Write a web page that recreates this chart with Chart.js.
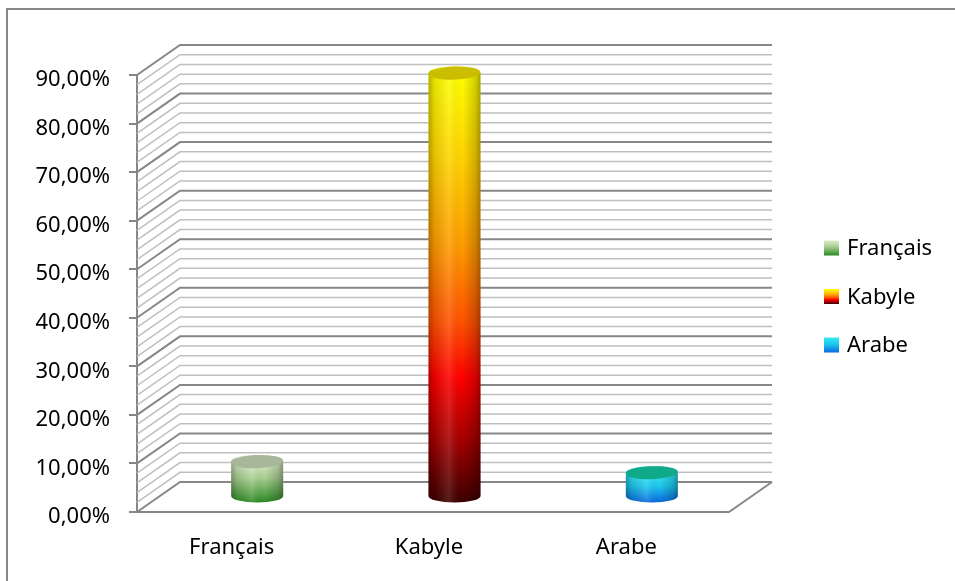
<!DOCTYPE html>
<html><head><meta charset="utf-8">
<script src="https://cdn.jsdelivr.net/npm/chart.js@4/dist/chart.umd.min.js"></script>
<style>html,body{margin:0;padding:0;background:#fff}#wrap{width:955px;height:581px}</style>
</head><body><div id="wrap"><canvas id="c" width="955" height="581"></canvas></div>
<script>
// ---- data ----
const categories = ['Français', 'Kabyle', 'Arabe'];
const values = [7.3, 87.3, 5.0];          // percent
const yTickValues = [0, 10, 20, 30, 40, 50, 60, 70, 80, 90];
const yMax = 90;
const minorStep = 2;

// ---- styles ----
const FONT = '"Noto Sans", "DejaVu Sans", sans-serif';
const DX = 43, DY = -30;   // depth offset of the 3D box
const palettes = [
  { cap: '#a8b79a', stops: [[0, '#dcecca'], [0.4, '#a9cf92'], [1, '#2b8a23']] },
  { cap: '#cbbd00', stops: [[0, '#ffff00'], [0.2, '#ffd400'], [0.4, '#ff9c00'], [0.58, '#ff5200'], [0.71, '#ff0000'], [0.86, '#a20000'], [1, '#3c0000']] },
  { cap: '#10a98a', stops: [[0, '#36eaf2'], [0.45, '#1cc8ee'], [1, '#0a68df']] }
];

function vGrad(ctx, y0, y1, stops) {
  const g = ctx.createLinearGradient(0, y0, 0, y1);
  stops.forEach(s => g.addColorStop(s[0], s[1]));
  return g;
}

const threeD = {
  id: 'threeD',
  beforeDraw(chart) {
    const ctx = chart.ctx;
    ctx.save();
    ctx.fillStyle = '#fff';
    ctx.fillRect(0, 0, chart.width, chart.height);
    ctx.strokeStyle = '#878787';
    ctx.lineWidth = 2;
    ctx.strokeRect(7, 9, chart.width + 20, chart.height + 20);
    ctx.restore();
  },
  beforeDatasetsDraw(chart) {
    const { ctx, chartArea: a, scales: { y } } = chart;
    ctx.save();
    const lines = [];
    for (let v = 0; v <= y.max + 1e-9; v += minorStep) lines.push(v);
    [false, true].forEach(majorPass => {
      lines.forEach(v => {
        const isMajor = yTickValues.some(t => Math.abs(t - v) < 1e-9);
        if (isMajor !== majorPass) return;
        const py = y.getPixelForValue(v);
        ctx.strokeStyle = isMajor ? '#878787' : '#bfbfbf';
        ctx.lineWidth = isMajor ? 2 : 1.5;
        ctx.beginPath();
        ctx.moveTo(a.left, py);
        ctx.lineTo(a.left + DX, py + DY);
        ctx.lineTo(a.right + DX, py + DY);
        ctx.stroke();
      });
    });
    const p0 = y.getPixelForValue(0);
    ctx.strokeStyle = '#878787';
    ctx.lineWidth = 2;
    ctx.beginPath();
    ctx.moveTo(a.left, p0);
    ctx.lineTo(a.right, p0);
    ctx.lineTo(a.right + DX, p0 + DY);
    ctx.stroke();
    ctx.restore();
  },
  afterDatasetsDraw(chart) {
    const ctx = chart.ctx;
    ctx.save();
    chart.data.datasets.forEach((ds, di) => {
      const meta = chart.getDatasetMeta(di);
      const pal = palettes[di];
      meta.data.forEach((bar, j) => {
        if (ds.data[j] == null) return;
        const cx = bar.x + DX / 2, top = bar.y + DY / 2, base = bar.base + DY / 2;
        const rx = bar.width / 2, ry = 6.5;
        const path = () => {
          ctx.beginPath();
          ctx.moveTo(cx - rx, top);
          ctx.lineTo(cx - rx, base);
          ctx.ellipse(cx, base, rx, ry, 0, Math.PI, 0, true);
          ctx.lineTo(cx + rx, top);
          ctx.ellipse(cx, top, rx, ry, 0, 0, Math.PI, true);
          ctx.closePath();
        };
        path();
        ctx.fillStyle = vGrad(ctx, top, base + ry, pal.stops);
        ctx.fill();
        const h = ctx.createLinearGradient(cx - rx, 0, cx + rx, 0);
        h.addColorStop(0, 'rgba(0,0,0,0.30)');
        h.addColorStop(0.12, 'rgba(0,0,0,0.10)');
        h.addColorStop(0.4, 'rgba(255,255,255,0.12)');
        h.addColorStop(0.65, 'rgba(0,0,0,0.0)');
        h.addColorStop(0.9, 'rgba(0,0,0,0.18)');
        h.addColorStop(1, 'rgba(0,0,0,0.35)');
        path();
        ctx.fillStyle = h;
        ctx.fill();
        ctx.beginPath();
        ctx.ellipse(cx, top, rx, ry, -0.04, 0, Math.PI * 2);
        ctx.fillStyle = pal.cap;
        ctx.fill();
      });
    });
    ctx.restore();
  },
  afterDraw(chart) {
    const ctx = chart.ctx;
    ctx.save();
    ctx.font = '22px ' + FONT;
    ctx.textBaseline = 'middle';
    ctx.textAlign = 'left';
    chart.data.datasets.forEach((ds, i) => {
      const yc = 248 + i * 48.5;
      ctx.fillStyle = vGrad(ctx, yc - 7.5, yc + 7.5, palettes[i].stops);
      ctx.fillRect(824, yc - 7.5, 15, 15);
      ctx.fillStyle = '#000';
      ctx.fillText(ds.label, 847, yc + 1);
    });
    ctx.restore();
  }
};

const datasets = categories.map((c, i) => ({
  label: c,
  data: categories.map((_, j) => (j === i ? values[i] : null)),
  backgroundColor: 'rgba(0,0,0,0)',
  borderWidth: 0,
  grouped: false,
  barThickness: 52,
  skipNull: true
}));

new Chart(document.getElementById('c'), {
  type: 'bar',
  data: { labels: categories, datasets },
  options: {
    responsive: false,
    animation: false,
    layout: { padding: { left: 0, top: 75, right: 226, bottom: 0 } },
    plugins: { legend: { display: false }, tooltip: { enabled: false } },
    scales: {
      x: {
        grid: { display: false, drawTicks: false },
        border: { display: false },
        ticks: { font: { family: FONT, size: 22 }, color: '#000', padding: 23, labelOffset: -4 },
        afterFit(s) { s.height = 69; }
      },
      y: {
        min: 0, max: yMax,
        afterBuildTicks(s) { s.ticks = yTickValues.map(v => ({ value: v })); },
        grid: { drawOnChartArea: false, drawTicks: true, tickLength: 8, color: '#878787', lineWidth: 2 },
        border: { display: true, color: '#878787', width: 2 },
        ticks: {
          font: { family: FONT, size: 22 }, color: '#000', padding: 19, labelOffset: 5,
          callback: v => v.toFixed(2).replace('.', ',') + '%'
        },
        afterFit(s) { s.width = 137; }
      }
    }
  },
  plugins: [threeD]
});
</script></body></html>
